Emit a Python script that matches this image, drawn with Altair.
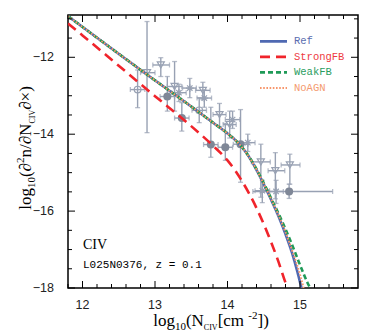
import altair as alt
import pandas as pd

# ---------------- data ----------------
series_names = ["Ref", "StrongFB", "WeakFB", "NoAGN"]

x_ref = [11.8, 12.0, 12.5, 13.0, 13.5, 13.8, 14.0, 14.1, 14.2, 14.3, 14.4, 14.5, 14.6, 14.7, 14.8, 14.9, 14.96, 15.02]
y_ref = [-10.93, -11.21, -11.91, -12.60, -13.28, -13.70, -13.98, -14.14, -14.34, -14.60, -14.93, -15.30, -15.70, -16.12, -16.60, -17.15, -17.55, -18.0]

x_strong = [11.8, 12.0, 12.5, 13.0, 13.4, 13.8, 14.0, 14.2, 14.4, 14.6, 14.7, 14.8, 14.83]
y_strong = [-11.12, -11.43, -12.22, -13.01, -13.63, -14.30, -14.68, -15.22, -15.92, -16.80, -17.30, -17.86, -18.0]

x_weak = [11.8, 12.0, 12.5, 13.0, 13.5, 13.8, 14.0, 14.1, 14.2, 14.3, 14.4, 14.5, 14.6, 14.7, 14.8, 14.9, 15.0, 15.1, 15.14]
y_weak = [-10.93, -11.21, -11.91, -12.60, -13.28, -13.70, -13.98, -14.14, -14.34, -14.59, -14.91, -15.27, -15.66, -16.05, -16.47, -16.92, -17.40, -17.85, -18.0]

x_noagn = [11.8, 12.0, 12.5, 13.0, 13.5, 13.8, 14.0, 14.1, 14.2, 14.3, 14.4, 14.5, 14.6, 14.7, 14.8, 14.9, 15.0, 15.05]
y_noagn = [-10.93, -11.21, -11.91, -12.60, -13.28, -13.70, -13.98, -14.14, -14.34, -14.60, -14.92, -15.29, -15.68, -16.09, -16.55, -17.07, -17.65, -18.0]

obs_x = [13.17, 13.37, 13.77, 13.97, 14.18, 14.85,
         12.89, 13.08, 13.27, 13.66, 13.89, 14.03, 14.46, 14.66, 14.86,
         12.76, 13.61,
         13.48, 13.68, 13.33, 14.07, 14.28, 14.48, 14.67]
obs_y = [-13.02, -13.58, -14.27, -14.34, -14.26, -15.49,
         -12.40, -12.20, -12.76, -12.86, -13.49, -13.75, -14.72, -14.95, -14.80,
         -12.84, -13.38,
         -12.80, -13.06, -12.92, -13.62, -14.22, -15.47, -15.49]
obs_xlo = [13.07, 13.27, 13.67, 13.87, 14.08, 14.35,
           12.80, 12.97, 13.17, 13.56, 13.80, 13.94, 14.33, 14.56, 14.74,
           12.66, 13.51,
           13.38, 13.58, 13.23, 13.97, 14.18, 14.38, 14.57]
obs_xhi = [13.27, 13.47, 13.87, 14.07, 14.28, 15.45,
           13.00, 13.20, 13.37, 13.76, 13.98, 14.12, 14.59, 14.79, 15.00,
           12.86, 13.71,
           13.57, 13.78, 13.43, 14.17, 14.38, 14.58, 14.77]
obs_ylo = [-13.40, -13.92, -14.60, -14.68, -15.25, -15.67,
           -13.96, -12.50, -13.40, -13.10, -13.80, -14.10, -15.64, -15.68, -15.30,
           -13.31, -13.70,
           -13.05, -13.30, -13.15, -13.85, -14.45, -15.78, -15.80]
obs_yhi = [-12.50, -13.18, -13.30, -13.72, -13.36, -15.30,
           -11.07, -12.01, -12.11, -12.65, -13.20, -13.40, -14.26, -14.48, -14.52,
           -12.33, -13.05,
           -12.55, -12.85, -12.70, -13.40, -14.00, -15.20, -15.20]
obs_kind = ["filled"] * 6 + ["tri"] * 9 + ["open"] * 2 + ["star"] * 7

x_major = [12, 13, 14, 15]
y_major = [-18, -16, -14, -12]
x_minor = [11.8, 12.2, 12.4, 12.6, 12.8, 13.2, 13.4, 13.6, 13.8, 14.2, 14.4, 14.6, 14.8, 15.2, 15.4, 15.6]
y_minor = [-17.5, -17, -16.5, -15.5, -15, -14.5, -13.5, -13, -12.5, -11.5, -11]

# ---------------- styling ----------------
W, H = 290, 273
XD = [11.8, 15.8]
YD = [-18.0, -10.9]
xs = alt.Scale(domain=XD, nice=False, zero=False)
ys = alt.Scale(domain=YD, nice=False, zero=False)

line_colors = ["#4f69b2", "#f0242b", "#1f9a57", "#f7966b"]
label_colors = ["#5a6db0", "#ee3a3f", "#2a9d5f", "#f49a6f"]
dashes = [[1, 0], [10, 6], [5, 3], [1.6, 1.6]]
widths = [2.6, 2.6, 2.6, 2.0]
GREY = "#98a1b3"
GREY_D = "#7f8797"

SERIF = "Liberation Serif"
SANS = "Liberation Sans"
MONO = "Liberation Mono"

obs = pd.DataFrame({"x": obs_x, "y": obs_y, "xlo": obs_xlo, "xhi": obs_xhi,
                    "ylo": obs_ylo, "yhi": obs_yhi, "kind": obs_kind})
base_obs = alt.Chart(obs)

def X(f):
    return alt.X(f, scale=xs, axis=None)

def Y(f):
    return alt.Y(f, scale=ys, axis=None)

layers = []

# error bars
layers.append(base_obs.mark_rule(color=GREY, strokeWidth=1.4).encode(x=X("x:Q"), y=Y("ylo:Q"), y2="yhi:Q"))
layers.append(base_obs.mark_rule(color=GREY, strokeWidth=1.4).encode(x=X("xlo:Q"), x2="xhi:Q", y=Y("y:Q")))
for f in ["ylo", "yhi"]:
    layers.append(base_obs.mark_tick(color=GREY, orient="horizontal", size=5, thickness=1.3).encode(
        x=X("x:Q"), y=Y(f + ":Q")))
for f in ["xlo", "xhi"]:
    layers.append(base_obs.mark_tick(color=GREY, orient="vertical", size=5, thickness=1.3).encode(
        x=X(f + ":Q"), y=Y("y:Q")))

# markers
layers.append(base_obs.transform_filter(alt.datum.kind == "filled").mark_point(
    shape="circle", filled=True, size=65, color=GREY_D, opacity=1).encode(x=X("x:Q"), y=Y("y:Q")))
layers.append(base_obs.transform_filter(alt.datum.kind == "tri").mark_point(
    shape="triangle-down", filled=False, size=50, color=GREY, strokeWidth=1.2, opacity=1).encode(
    x=X("x:Q"), y=Y("y:Q")))
layers.append(base_obs.transform_filter(alt.datum.kind == "open").mark_point(
    shape="circle", filled=False, size=45, color=GREY, strokeWidth=1.2, opacity=1).encode(
    x=X("x:Q"), y=Y("y:Q")))
layers.append(base_obs.transform_filter(alt.datum.kind == "star").mark_point(
    shape="M-1,0L1,0M0,-1L0,1M-0.7,-0.7L0.7,0.7M-0.7,0.7L0.7,-0.7", filled=False, size=60,
    color=GREY, strokeWidth=1.2, opacity=1).encode(x=X("x:Q"), y=Y("y:Q")))

# model curves
curves = [(x_ref, y_ref), (x_strong, y_strong), (x_weak, y_weak), (x_noagn, y_noagn)]
for i, (cx, cy) in enumerate(curves):
    df = pd.DataFrame({"x": cx, "y": cy})
    layers.append(alt.Chart(df).mark_line(color=line_colors[i], strokeWidth=widths[i],
                                          strokeDash=dashes[i], interpolate="monotone", clip=True)
                  .encode(x=X("x:Q"), y=Y("y:Q")))

# inward ticks on all four sides
def xticks(vals, length):
    d = alt.Chart(pd.DataFrame({"v": vals}))
    return [d.mark_rule(color="black", strokeWidth=1).encode(x=X("v:Q"), y=alt.value(H - length), y2=alt.value(H)),
            d.mark_rule(color="black", strokeWidth=1).encode(x=X("v:Q"), y=alt.value(0), y2=alt.value(length))]

def yticks(vals, length):
    d = alt.Chart(pd.DataFrame({"v": vals}))
    return [d.mark_rule(color="black", strokeWidth=1).encode(y=Y("v:Q"), x=alt.value(0), x2=alt.value(length)),
            d.mark_rule(color="black", strokeWidth=1).encode(y=Y("v:Q"), x=alt.value(W - length), x2=alt.value(W))]

layers += xticks(x_major, 7) + xticks(x_minor, 4) + yticks(y_major, 7) + yticks(y_minor, 4)

# tick labels
def lab(v):
    return str(v).replace("-", "\u2212")

xl = pd.DataFrame({"v": x_major, "t": [lab(v) for v in x_major]})
yl = pd.DataFrame({"v": y_major, "t": [lab(v) for v in y_major]})
layers.append(alt.Chart(xl).mark_text(align="center", baseline="top", font=SANS, fontSize=12.5,
                                      color="#222").encode(x=X("v:Q"), y=alt.value(H + 11), text="t:N"))
layers.append(alt.Chart(yl).mark_text(align="right", baseline="middle", font=SANS, fontSize=12.5,
                                      color="#222").encode(y=Y("v:Q"), x=alt.value(-14), text="t:N"))

one = pd.DataFrame({"a": [0]})

# legend (inside the plot)
for i, name in enumerate(series_names):
    ly = 26.4 + 15.5 * i
    layers.append(alt.Chart(one).mark_rule(color=line_colors[i], strokeWidth=widths[i],
                                           strokeDash=dashes[i]).encode(
        x=alt.value(192), x2=alt.value(219), y=alt.value(ly)))
    layers.append(alt.Chart(one).mark_text(align="left", baseline="middle", font=MONO, fontSize=10.5,
                                           color=label_colors[i]).encode(
        x=alt.value(226), y=alt.value(ly), text=alt.value(name)))

# annotations
layers.append(alt.Chart(one).mark_text(align="left", baseline="alphabetic", font=SERIF, fontSize=14,
                                       color="black").encode(
    x=alt.value(15), y=alt.value(233.5), text=alt.value("CIV")))
layers.append(alt.Chart(one).mark_text(align="left", baseline="alphabetic", font=MONO, fontSize=11,
                                       color="black").encode(
    x=alt.value(15), y=alt.value(252.5), text=alt.value("L025N0376, z = 0.1")))

# axis titles with sub/superscripts
EM = {"l": .278, "o": .5, "g": .5, "1": .5, "0": .5, "(": .333, ")": .333, "N": .722, "C": .667,
      "I": .333, "V": .722, " ": .25, "\u00a0": .25, "[": .333, "]": .333, "c": .444, "m": .778,
      "\u2212": .564, "-": .333, "2": .5, "\u2202": .494, "n": .5, "/": .278, "\u00d7": .564}

def tw(s, size):
    return sum(EM.get(c, .5) for c in s) * size

def title_pieces(pieces, ax, ay, angle):
    total = sum(tw(t, s) for t, s, _ in pieces)
    off = -total / 2
    out = []
    for t, s, dy in pieces:
        m = alt.Chart(one).mark_text(align="left", baseline="alphabetic", font=SERIF, fontSize=s,
                                     color="black", dx=off, dy=dy, angle=angle)
        out.append(m.encode(x=alt.value(ax), y=alt.value(ay), text=alt.value(t)))
        off += tw(t, s)
    return out

xt = [("log", 17, 0), ("10", 11, 4), ("(N", 17, 0), ("CIV", 8, 4), ("\u00a0[cm", 17, 0),
      ("-2", 11, -7), ("])", 17, 0)]
yt = [("log", 17, 0), ("10", 11, 4), ("(\u2202", 17, 0), ("2", 11, -7), ("n/\u2202N", 17, 0),
      ("CIV", 8, 4), ("\u2202\u00d7)", 17, 0)]
layers += title_pieces(xt, 143, 311, 0)
layers += title_pieces(yt, -37, 133, 270)

chart = alt.layer(*layers).properties(
    width=W, height=H, autosize="none",
    padding={"left": 60, "top": 7, "right": 8, "bottom": 48}
).configure_view(stroke="black", strokeWidth=1.5)

chart.save("out.html", embed_options={"renderer": "svg", "actions": False})
